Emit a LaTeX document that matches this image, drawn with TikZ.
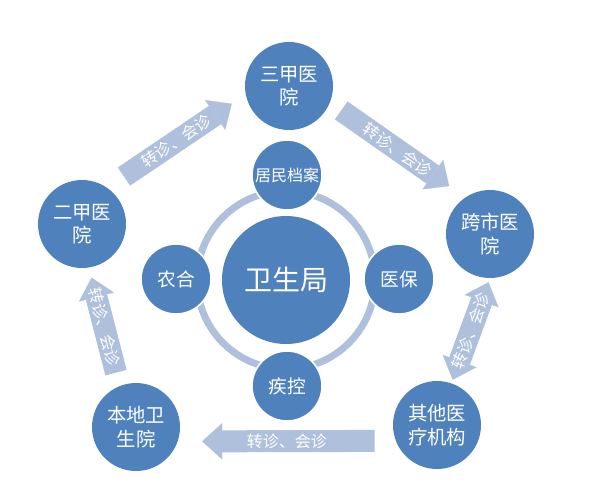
\documentclass[tikz,border=0pt]{standalone}
\usepackage{fontspec}
\newfontfamily\cjk{Noto Sans CJK SC}
\usetikzlibrary{arrows.meta}
\definecolor{hosblue}{HTML}{4F81BD}
\definecolor{hoslight}{HTML}{AFC0DC}

\begin{document}
\begin{tikzpicture}[
    x=0.75pt, y=-0.75pt,
    hub/.style={
      circle, fill=hosblue, text=white, inner sep=0pt,
      minimum size=96pt, font=\cjk\fontsize{21}{25}\selectfont
    },
    unit/.style={
      circle, fill=hosblue, draw=white, line width=1.2pt, text=white,
      inner sep=0pt, minimum size=52.5pt, font=\cjk\fontsize{14}{17}\selectfont
    },
    org/.style={
      circle, fill=hosblue, text=white, inner sep=0pt, minimum size=66pt,
      align=center, font=\cjk\fontsize{14.5}{17.5}\selectfont
    },
    ring/.style={hoslight, line width=5.25pt},
    flow/.style={hoslight, line width=16.5pt,
      -{Triangle[length=15pt, width=27pt, line width=0.1pt]}},
    twoway/.style={flow,
      {Triangle[length=15pt, width=27pt, line width=0.1pt]}-{Triangle[length=15pt, width=27pt, line width=0.1pt]}},
    tag/.style={text=white, font=\cjk\fontsize{12}{14}\selectfont, sloped, midway},
  ]
  \useasboundingbox (0,0) rectangle (598,486);

  % hub and ring
  \node[hub] (bureau) at (286,280) {卫生局};
  \draw[ring] (bureau.center) circle[radius=89];

  \node[unit, font=\cjk\fontsize{12}{14}\selectfont] (records) at (287,175) {居民档案};
  \node[unit] (coop) at (176,279) {农合};
  \node[unit] (insur) at (399,279) {医保};
  \node[unit] (cdc) at (287,386) {疾控};

  % hospitals
  \node[org] (tier3) at (289,86) {三甲医\\院};
  \node[org] (tier2) at (82,224) {二甲医\\院};
  \node[org] (cross) at (490,234) {跨市医\\院};
  \node[org] (other) at (437,425) {其他医\\疗机构};
  \node[org] (local) at (136,427) {本地卫\\生院};

  % referrals
  \draw[flow, shorten <=15pt, shorten >=12.5pt] (tier2.55) -- (tier3.191)
    node[tag] {转诊、会诊};
  \draw[flow, shorten <=10.2pt, shorten >=14.7pt] (tier3.338) -- (cross.124)
    node[tag] {转诊、会诊};
  \draw[twoway, shorten <=2.7pt, shorten >=3.2pt] (other.71) -- (cross.270)
    node[tag] {转诊、会诊};
  \draw[flow, shorten <=15.8pt, shorten >=18.2pt] (other.201) -- (local.341)
    node[tag] {转诊、会诊};
  \draw[flow, shorten <=10.3pt, shorten >=7.7pt] (local.112) -- (tier2.279)
    node[tag] {转诊、会诊};
\end{tikzpicture}
\end{document}
